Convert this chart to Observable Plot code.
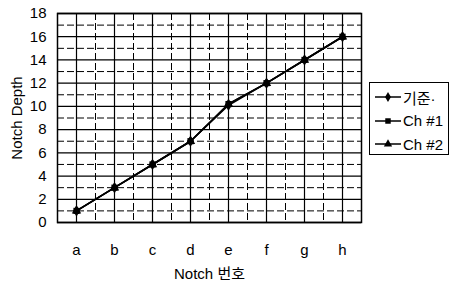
<!DOCTYPE html>
<html><head><meta charset="utf-8">
<script src="https://cdn.jsdelivr.net/npm/d3@7"></script>
<script src="https://cdn.jsdelivr.net/npm/@observablehq/plot@0.6"></script>
<style>
body{margin:0;background:#fff;font-family:"Liberation Sans",Arial,"Noto Sans CJK KR",sans-serif;}
#wrap{position:relative;width:451px;height:284px;overflow:hidden;}
#legend{position:absolute;left:369px;top:82px;width:80px;height:73px;border:1px solid #000;box-sizing:border-box;font-size:15px;}
#legend .row{position:absolute;left:4px;height:20px;display:flex;align-items:center;white-space:nowrap;}
#legend svg{display:block}
</style></head><body>
<div id="wrap"><div id="chart"></div><div id="legend"></div></div>
<script>
const categories = ["a","b","c","d","e","f","g","h"];
const seriesNames = ["기준·","Ch #1","Ch #2"];
const base = [1,3,5,7,10.1,12,14,16];
const ch1  = [1,3,5,7,10.2,12,14,16];
const ch2  = [1,3,5,7,10.2,12,14,16];
const yTicksMajor = [0,2,4,6,8,10,12,14,16,18];
const yTicksMinor = [1,3,5,7,9,11,13,15,17];
const symbols = ["diamond","square","triangle"];

const idx = categories.map((c,i)=>i);
const rows = [];
[base,ch1,ch2].forEach((vals,s)=>vals.forEach((v,i)=>rows.push({series:seriesNames[s],i,v})));
const mids = idx.slice(0,-1).map(i=>i+0.5);

const font = '"Liberation Sans",Arial,"Noto Sans CJK KR",sans-serif';
const chart = Plot.plot({
  width:451,height:284,
  marginLeft:57,marginRight:90,marginTop:13,marginBottom:62,
  style:{fontFamily:font,fontSize:"15px",color:"#000",background:"#fff"},
  x:{domain:[-0.5,7.5],ticks:idx,tickFormat:i=>categories[i],tickSize:0,tickPadding:22,
     label:"Notch 번호",labelAnchor:"center",labelOffset:56,labelArrow:"none"},
  y:{domain:[0,18],ticks:yTicksMajor,tickSize:0,tickPadding:11,
     label:"Notch Depth",labelAnchor:"center",labelOffset:46,labelArrow:"none"},
  symbol:{domain:seriesNames,range:symbols},
  marks:[
    Plot.ruleY(yTicksMinor,{stroke:"#000",strokeWidth:1,strokeDasharray:"7,3"}),
    Plot.ruleX(mids,{stroke:"#000",strokeWidth:1,strokeDasharray:"7,3"}),
    Plot.ruleY(yTicksMajor,{stroke:"#000",strokeWidth:1.3}),
    Plot.ruleX(idx,{stroke:"#000",strokeWidth:1.2}),
    Plot.frame({stroke:"#000",strokeWidth:1.5}),
    Plot.line(rows,{x:"i",y:"v",z:"series",stroke:"#000",strokeWidth:1.6}),
    Plot.dot(rows,{x:"i",y:"v",symbol:"series",fill:"#000",stroke:"none",r:3.5})
  ]
});
document.getElementById("chart").appendChild(chart);

const lg = document.getElementById("legend");
const d3syms = [d3.symbolDiamond, d3.symbolSquare, d3.symbolTriangle];
seriesNames.forEach((n,k)=>{
  const row = document.createElement("div");
  row.className="row"; row.style.top=(4+k*23.5)+"px";
  const sym = d3.symbol(d3syms[k], 30)();
  row.innerHTML = `<svg width="29" height="20"><line x1="1" x2="27" y1="10" y2="10" stroke="#000" stroke-width="1.5"/><path d="${sym}" transform="translate(14,10)" fill="#000"/></svg><span>${n}</span>`;
  lg.appendChild(row);
});
</script>
</body></html>
